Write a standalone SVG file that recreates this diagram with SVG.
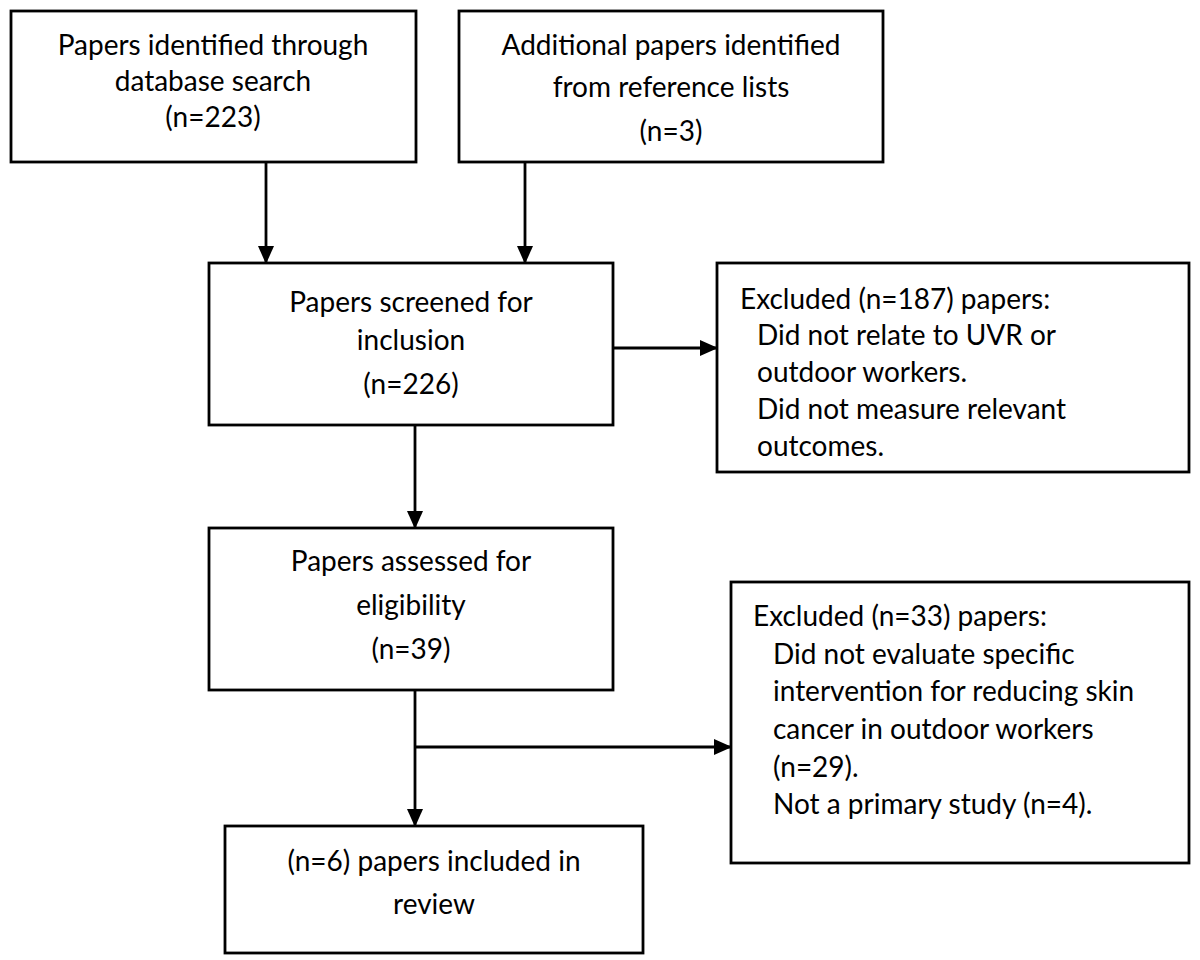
<svg xmlns="http://www.w3.org/2000/svg" width="1200" height="960" viewBox="0 0 1200 960">
<style>
.box{fill:#fff;stroke:#000;stroke-width:2.8}
.t{font-family:Lato,"Open Sans","Liberation Sans",sans-serif;font-size:28px;fill:#000;dominant-baseline:central}
.c{text-anchor:middle}
.ln{stroke:#000;stroke-width:2.8;fill:none}
</style>
<defs>
<marker id="ah" markerWidth="18" markerHeight="16" refX="17" refY="8" orient="auto" markerUnits="userSpaceOnUse">
<path d="M0,0 L18,8 L0,16 Z" fill="#000"/>
</marker>
</defs>
<rect width="1200" height="960" fill="#fff"/>
<g id="connectors">
<line class="ln" x1="266" y1="162" x2="266" y2="263" marker-end="url(#ah)"/>
<line class="ln" x1="525" y1="162" x2="525" y2="263" marker-end="url(#ah)"/>
<line class="ln" x1="613" y1="348" x2="717" y2="348" marker-end="url(#ah)"/>
<line class="ln" x1="415" y1="425" x2="415" y2="528" marker-end="url(#ah)"/>
<line class="ln" x1="415" y1="690" x2="415" y2="826" marker-end="url(#ah)"/>
<line class="ln" x1="415" y1="747" x2="731" y2="747" marker-end="url(#ah)"/>
</g>
<g id="n1">
<rect class="box" x="11" y="11" width="405" height="151"/>
<text class="t c" x="213" y="44">Papers identified through</text>
<text class="t c" x="213" y="80">database search</text>
<text class="t c" x="213" y="116">(n=223)</text>
</g>
<g id="n2">
<rect class="box" x="459" y="11" width="424" height="151"/>
<text class="t c" x="671" y="44">Additional papers identified</text>
<text class="t c" x="671" y="86">from reference lists</text>
<text class="t c" x="671" y="130">(n=3)</text>
</g>
<g id="n3">
<rect class="box" x="209" y="263" width="404" height="162"/>
<text class="t c" x="411" y="301">Papers screened for</text>
<text class="t c" x="411" y="339">inclusion</text>
<text class="t c" x="411" y="383">(n=226)</text>
</g>
<g id="n4">
<rect class="box" x="717" y="263" width="472" height="209"/>
<text class="t" x="740" y="298">Excluded (n=187) papers:</text>
<text class="t" x="757" y="334">Did not relate to UVR or</text>
<text class="t" x="757" y="371">outdoor workers.</text>
<text class="t" x="757" y="408">Did not measure relevant</text>
<text class="t" x="757" y="445">outcomes.</text>
</g>
<g id="n5">
<rect class="box" x="209" y="528" width="404" height="162"/>
<text class="t c" x="411" y="560">Papers assessed for</text>
<text class="t c" x="411" y="604">eligibility</text>
<text class="t c" x="411" y="648">(n=39)</text>
</g>
<g id="n6">
<rect class="box" x="731" y="582" width="458" height="281"/>
<text class="t" x="753" y="615">Excluded (n=33) papers:</text>
<text class="t" x="773" y="653">Did not evaluate specific</text>
<text class="t" x="773" y="690">intervention for reducing skin</text>
<text class="t" x="773" y="728">cancer in outdoor workers</text>
<text class="t" x="773" y="766">(n=29).</text>
<text class="t" x="773" y="803">Not a primary study (n=4).</text>
</g>
<g id="n7">
<rect class="box" x="225" y="826" width="418" height="127"/>
<text class="t c" x="434" y="860">(n=6) papers included in</text>
<text class="t c" x="434" y="903">review</text>
</g>
</svg>
